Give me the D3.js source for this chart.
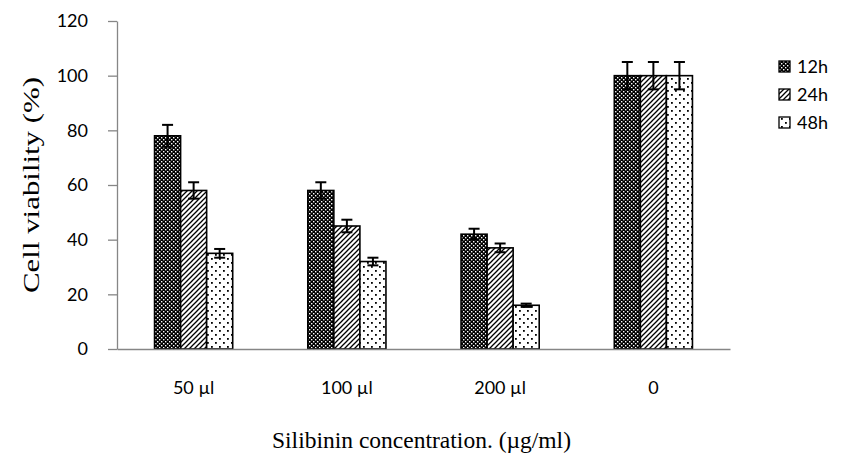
<!DOCTYPE html>
<html>
<head>
<meta charset="utf-8">
<script src="https://cdn.jsdelivr.net/npm/d3@7"></script>
<style>
  body { margin: 0; background: #fff; }
  svg { display: block; }
</style>
</head>
<body>
<div id="chart"></div>
<script>
// chart data
var categories = ["50 µl", "100 µl", "200 µl", "0"];
var seriesNames = ["12h", "24h", "48h"];
var values12h = [78, 58, 42, 100];
var values24h = [58, 45, 37, 100];
var values48h = [35, 32, 16, 100];
var errors12h = [4, 3, 2, 5];
var errors24h = [3, 2.3, 1.6, 5];
var errors48h = [1.6, 1.4, 0.6, 5];
var yTicks = [0, 20, 40, 60, 80, 100, 120];

var width = 841, height = 464;
var margin = {top: 21, right: 111, bottom: 115, left: 117};
var plotW = width - margin.left - margin.right,
    plotH = height - margin.top - margin.bottom;

var rows = [];
categories.forEach(function(c, i){
    rows.push({cat: c, series: "12h", value: values12h[i], err: errors12h[i]});
    rows.push({cat: c, series: "24h", value: values24h[i], err: errors24h[i]});
    rows.push({cat: c, series: "48h", value: values48h[i], err: errors48h[i]});
});

var svg = d3.select("#chart")
    .append("svg")
    .attr("width", width)
    .attr("height", height);

// patterns for the three series
var defs = svg.append("defs");

var p1 = defs.append("pattern")
    .attr("id", "pat-12h")
    .attr("patternUnits", "userSpaceOnUse")
    .attr("width", 4).attr("height", 4);
p1.append("rect").attr("width", 4).attr("height", 4).attr("fill", "#000");
p1.append("rect").attr("x", 0).attr("y", 0).attr("width", 1.4).attr("height", 1.4).attr("fill", "#fff");
p1.append("rect").attr("x", 2).attr("y", 2).attr("width", 1.4).attr("height", 1.4).attr("fill", "#fff");

var p2 = defs.append("pattern")
    .attr("id", "pat-24h")
    .attr("patternUnits", "userSpaceOnUse")
    .attr("width", 5).attr("height", 5);
p2.append("rect").attr("width", 5).attr("height", 5).attr("fill", "#fff");
p2.append("path")
    .attr("d", "M-1,6 L6,-1 M-1,1 L1,-1 M4,6 L6,4")
    .attr("stroke", "#000")
    .attr("stroke-width", 1.3);

var p3 = defs.append("pattern")
    .attr("id", "pat-48h")
    .attr("patternUnits", "userSpaceOnUse")
    .attr("width", 8).attr("height", 8);
p3.append("rect").attr("width", 8).attr("height", 8).attr("fill", "#fff");
p3.append("rect").attr("x", 2).attr("y", 1).attr("width", 1.8).attr("height", 1.8).attr("fill", "#000");
p3.append("rect").attr("x", 6).attr("y", 5).attr("width", 1.8).attr("height", 1.8).attr("fill", "#000");

var fills = {"12h": "url(#pat-12h)", "24h": "url(#pat-24h)", "48h": "url(#pat-48h)"};

var g = svg.append("g")
    .attr("transform", "translate(" + margin.left + "," + margin.top + ")");

var x0 = d3.scaleBand()
    .domain(categories)
    .range([0, plotW])
    .paddingInner(0.49)
    .paddingOuter(0.245);

var x1 = d3.scaleBand()
    .domain(seriesNames)
    .range([0, x0.bandwidth()]);

var y = d3.scaleLinear()
    .domain([0, 120])
    .range([plotH, 0]);

// y axis
var yAxis = g.append("g")
    .call(d3.axisLeft(y).tickValues(yTicks).tickSize(9).tickSizeOuter(0).tickPadding(20));
yAxis.selectAll("path, line").attr("stroke", "#868686").attr("stroke-width", 1.3);
yAxis.selectAll("text")
    .style("font-family", "Lato, 'Open Sans', sans-serif")
    .style("font-size", "18px")
    .attr("fill", "#000");

// bars
g.selectAll(".bar")
    .data(rows)
    .enter().append("rect")
    .attr("class", "bar")
    .attr("x", function(d){ return x0(d.cat) + x1(d.series); })
    .attr("y", function(d){ return y(d.value); })
    .attr("width", x1.bandwidth())
    .attr("height", function(d){ return y(0) - y(d.value); })
    .attr("fill", function(d){ return fills[d.series]; })
    .attr("stroke", "#000")
    .attr("stroke-width", 1.6);

// x axis
var xAxis = g.append("g")
    .attr("transform", "translate(0," + plotH + ")")
    .call(d3.axisBottom(x0).tickSize(0).tickPadding(32));
xAxis.select("path").attr("stroke", "#868686").attr("stroke-width", 1.6);
xAxis.selectAll("text")
    .style("font-family", "Lato, 'Open Sans', sans-serif")
    .style("font-size", "18px")
    .attr("fill", "#000");

// error bars
var errG = g.selectAll(".err")
    .data(rows)
    .enter().append("g")
    .attr("class", "err")
    .attr("stroke", "#000")
    .attr("stroke-width", 2);
errG.append("line")
    .attr("x1", function(d){ return x0(d.cat) + x1(d.series) + x1.bandwidth() / 2; })
    .attr("x2", function(d){ return x0(d.cat) + x1(d.series) + x1.bandwidth() / 2; })
    .attr("y1", function(d){ return y(d.value + d.err); })
    .attr("y2", function(d){ return y(d.value - d.err); });
errG.append("line")
    .attr("x1", function(d){ return x0(d.cat) + x1(d.series) + x1.bandwidth() / 2 - 5.5; })
    .attr("x2", function(d){ return x0(d.cat) + x1(d.series) + x1.bandwidth() / 2 + 5.5; })
    .attr("y1", function(d){ return y(d.value + d.err); })
    .attr("y2", function(d){ return y(d.value + d.err); });
errG.append("line")
    .attr("x1", function(d){ return x0(d.cat) + x1(d.series) + x1.bandwidth() / 2 - 5.5; })
    .attr("x2", function(d){ return x0(d.cat) + x1(d.series) + x1.bandwidth() / 2 + 5.5; })
    .attr("y1", function(d){ return y(d.value - d.err); })
    .attr("y2", function(d){ return y(d.value - d.err); });

// axis titles
svg.append("text")
    .attr("transform", "translate(39,185) rotate(-90)")
    .attr("text-anchor", "middle")
    .attr("textLength", 216)
    .attr("lengthAdjust", "spacingAndGlyphs")
    .style("font-family", "'Liberation Serif', 'Times New Roman', serif")
    .style("font-size", "23px")
    .text("Cell viability (%)");

svg.append("text")
    .attr("x", 421.5)
    .attr("y", 448)
    .attr("text-anchor", "middle")
    .attr("textLength", 299)
    .attr("lengthAdjust", "spacingAndGlyphs")
    .style("font-family", "'Liberation Serif', 'Times New Roman', serif")
    .style("font-size", "23px")
    .text("Silibinin concentration. (µg/ml)");

// legend
var legend = svg.append("g")
    .attr("transform", "translate(779,61)");
var items = legend.selectAll(".item")
    .data(seriesNames)
    .enter().append("g")
    .attr("class", "item")
    .attr("transform", function(d, i){ return "translate(0," + (i * 28) + ")"; });
items.append("rect")
    .attr("width", 11).attr("height", 11)
    .attr("fill", function(d){ return fills[d]; })
    .attr("stroke", "#000")
    .attr("stroke-width", 1.3);
items.append("text")
    .attr("x", 18)
    .attr("y", 12)
    .style("font-family", "Lato, 'Open Sans', sans-serif")
    .style("font-size", "18px")
    .text(function(d){ return d; });
</script>
</body>
</html>
